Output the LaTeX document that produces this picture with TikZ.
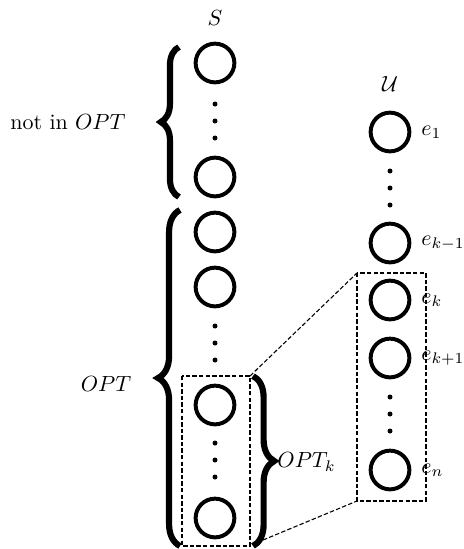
\documentclass[tikz,border=0pt]{standalone}
\usepackage{amsmath}
\usepackage{amssymb}
\usetikzlibrary{positioning, decorations.pathreplacing}

\begin{document}
\begin{tikzpicture}[x=0.016cm, y=-0.016cm,
    elem/.style={draw, circle, line width=1.8pt, minimum size=0.62cm, inner sep=0pt},
    bigbrace/.style={decorate, decoration={brace, amplitude=#1}, line width=2.8pt},
    zoombox/.style={dash pattern=on 2pt off 1pt, line width=0.5pt}]
  \useasboundingbox (0, 0) rectangle (464, 549);
  % left column S
  \node (S) at (215, 18) {$S$};
  \node[elem] (s1) at (215, 63) {};
  \node[elem] (s2) at (215, 177) {};
  \node[elem] (s3) at (215, 232) {};
  \node[elem] (s4) at (215, 287) {};
  \node[elem] (s5) at (215, 405) {};
  \node[elem] (s6) at (215, 518) {};
  \foreach \y in {121, 343, 460}
    \foreach \d in {-17, 0, 17}
      \fill (215, \y+\d) circle (2.5);
  % right column U
  \node (U) at (390, 84) {$\mathcal{U}$};
  \node[elem, label={[label distance=1pt]right:$e_1$}] (u1) at (390, 132) {};
  \node[elem, label={[label distance=1pt]right:$e_{k-1}$}] (u2) at (390, 243) {};
  \node[elem, label={[label distance=1pt]right:$e_k$}] (u3) at (390, 300) {};
  \node[elem, label={[label distance=1pt]right:$e_{k+1}$}] (u4) at (390, 358) {};
  \node[elem, label={[label distance=1pt]right:$e_n$}] (u5) at (390, 470) {};
  \foreach \y in {188, 414}
    \foreach \d in {-17, 0, 17}
      \fill (390, \y+\d) circle (2.5);
  % braces
  \coordinate (topbrace) at (179, 197);
  \draw[bigbrace=0.29cm] (topbrace) -- (179, 47);
  \node (notopt) at (68, 122) {not in $OPT$};
  \coordinate (optbrace) at (180, 546);
  \draw[bigbrace=0.35cm] (optbrace) -- (180, 210);
  \node (opt) at (106, 384) {$OPT$};
  \coordinate (optkbrace) at (253, 376);
  \draw[bigbrace=0.34cm] (optkbrace) -- (253, 546);
  \node[anchor=west, inner sep=0pt] (optk) at (277, 462) {$OPT_k$};
  % zoom boxes
  \draw[zoombox] (182, 376) rectangle (250, 546);
  \draw[zoombox] (357, 273) rectangle (426, 501);
  \draw[zoombox] (250, 376) -- (357, 273);
  \draw[zoombox] (263, 540) -- (357, 501);
\end{tikzpicture}
\end{document}
